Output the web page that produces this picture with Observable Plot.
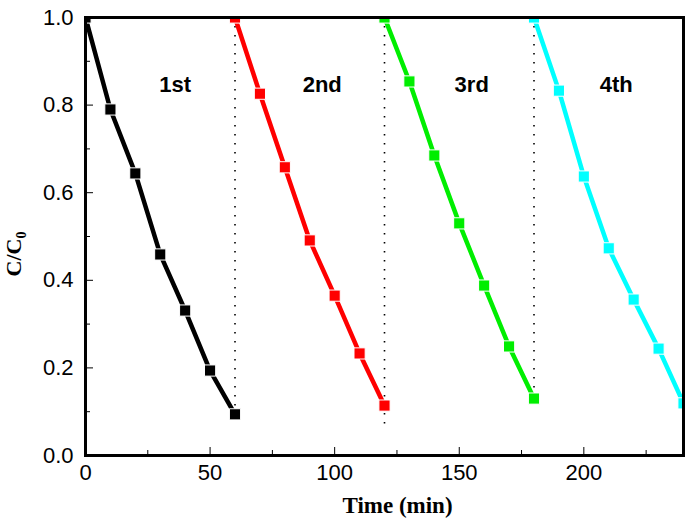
<!DOCTYPE html>
<html>
<head>
<meta charset="utf-8">
<script src="https://cdn.jsdelivr.net/npm/d3@7"></script>
<script src="https://cdn.jsdelivr.net/npm/@observablehq/plot@0.6"></script>
<style>
  html, body { margin: 0; padding: 0; background: #fff; }
</style>
</head>
<body>
<div id="chart"></div>
<script>
// ---- data ----
const runs = ["1st", "2nd", "3rd", "4th"];
const runColors = ["#000000", "#ff0000", "#00ee00", "#00ffff"];
const time1 = [0, 10, 20, 30, 40, 50, 60];
const ratio1 = [1.0, 0.79, 0.644, 0.459, 0.331, 0.194, 0.094];
const time2 = [60, 70, 80, 90, 100, 110, 120];
const ratio2 = [1.0, 0.826, 0.658, 0.491, 0.365, 0.233, 0.114];
const time3 = [120, 130, 140, 150, 160, 170, 180];
const ratio3 = [1.0, 0.854, 0.685, 0.530, 0.388, 0.249, 0.130];
const time4 = [180, 190, 200, 210, 220, 230, 240];
const ratio4 = [1.0, 0.833, 0.637, 0.473, 0.356, 0.244, 0.119];

const dividerX = [60, 120, 180];
const dividerTop = [1.0, 1.0, 1.0];
const dividerBottom = [0.1, 0.06, 0.145];

const labelX = [36, 95, 155, 213];
const labelY = [0.845, 0.845, 0.845, 0.845];

const xMajor = [0, 50, 100, 150, 200];
const xMinor = [25, 75, 125, 175, 225];
const yMajor = [0, 0.2, 0.4, 0.6, 0.8, 1.0];
const yMinor = [0.1, 0.3, 0.5, 0.7, 0.9];

// ---- build table ----
const times = [time1, time2, time3, time4];
const ratios = [ratio1, ratio2, ratio3, ratio4];
const rows = [];
runs.forEach((run, i) => {
  times[i].forEach((t, j) => rows.push({run, t, c: ratios[i][j]}));
});
const dividers = dividerX.map((x, i) => ({x, y1: dividerTop[i], y2: dividerBottom[i]}));
const labels = runs.map((r, i) => ({r, x: labelX[i], y: labelY[i]}));

const sans = "'Liberation Sans', Arial, sans-serif";
const serif = "'Liberation Serif', 'Times New Roman', serif";

const chart = Plot.plot({
  width: 685,
  height: 526,
  marginLeft: 85,
  marginTop: 17,
  marginRight: 2,
  marginBottom: 71,
  style: {fontFamily: sans, fontSize: "22px", color: "#000", background: "#fff"},
  x: {domain: [0, 240]},
  y: {domain: [0, 1.0]},
  color: {domain: runs, range: runColors},
  marks: [
    Plot.ruleX(dividers, {x: "x", y1: "y1", y2: "y2", stroke: "#000", strokeWidth: 1.6, strokeDasharray: "1.6,7.4"}),
    Plot.line(rows, {x: "t", y: "c", z: "run", stroke: "run", strokeWidth: 4.5, clip: true}),
    Plot.dot(rows, {x: "t", y: "c", symbol: "square", r: 6.3, fill: "run", stroke: "#fff", strokeWidth: 1, clip: true}),
    Plot.text(labels, {x: "x", y: "y", text: "r", fontWeight: "bold", fontSize: 22, fontFamily: sans}),
    Plot.axisX({ticks: xMajor, tickSize: 0, tickPadding: 9, tickFormat: d3.format("d"), label: null}),
    Plot.axisX({ticks: xMajor, tickSize: -8, tickWidth: 2.5, text: null, label: null}),
    Plot.axisX({ticks: xMinor, tickSize: -5, tickWidth: 2.5, text: null, label: null}),
    Plot.axisY({ticks: yMajor, tickSize: 0, tickPadding: 12, tickFormat: d3.format(".1f"), label: null}),
    Plot.axisY({ticks: yMajor, tickSize: -8, tickWidth: 2.5, text: null, label: null}),
    Plot.axisY({ticks: yMinor, tickSize: -5, tickWidth: 2.5, text: null, label: null}),
    Plot.text(["Time (min)"], {frameAnchor: "bottom", dy: 57, dx: 13, text: d => d, fontFamily: serif, fontWeight: "bold", fontSize: 23}),
    Plot.frame({stroke: "#000", strokeWidth: 3})
  ]
});
document.getElementById("chart").appendChild(chart);

// y-axis label with subscript
const svg = d3.select(chart);
const yl = svg.append("text")
  .attr("transform", "translate(21,254) rotate(-90)")
  .attr("text-anchor", "middle")
  .attr("font-family", serif)
  .attr("font-weight", "bold")
  .attr("font-size", 22)
  .attr("fill", "#000");
yl.append("tspan").text("C/C");
yl.append("tspan").attr("font-size", 14).attr("dy", 5).text("0");
</script>
</body>
</html>
